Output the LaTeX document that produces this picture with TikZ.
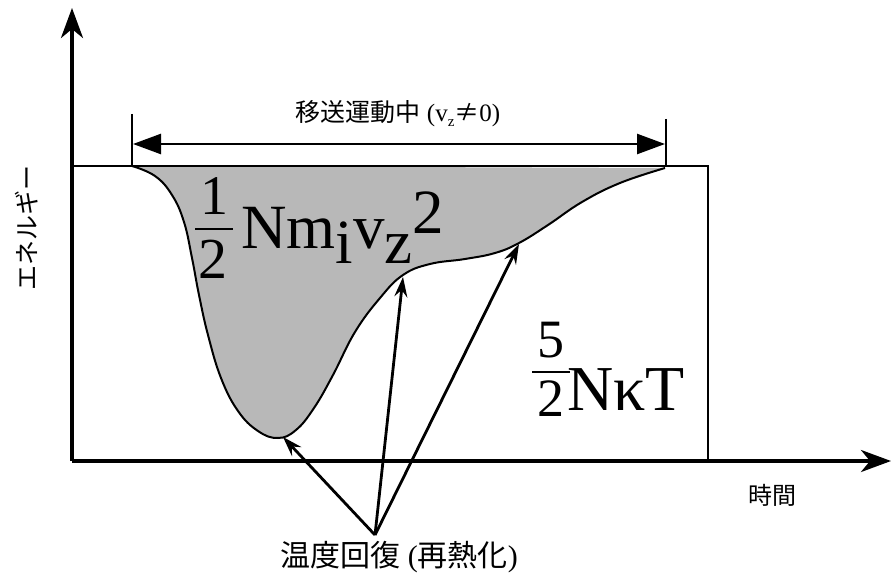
\documentclass[tikz,border=0pt]{standalone}
\usepackage{fontspec}
\setmainfont{Liberation Serif}
\newfontfamily\cjk{Noto Sans CJK JP}
\usetikzlibrary{arrows.meta}
\begin{document}
\begin{tikzpicture}[x=1pt,y=-1pt,
  axis/.style={line width=3.5pt, -{Stealth[length=30pt,width=22pt,inset=9pt]}},
  frame/.style={line width=2.5pt},
  tick/.style={line width=2.2pt},
  span/.style={line width=2.5pt, {Triangle[length=28pt,width=20pt]}-{Triangle[length=28pt,width=20pt]}},
  pointer/.style={line width=2.8pt, -{Stealth[length=20pt,width=13pt,inset=7pt,open]}},
  lbl/.style={inner sep=0pt},
  curvefill/.style={fill=black!28},
  curveline/.style={line width=2pt}]
\useasboundingbox (0,0) rectangle (891,580);

% axes and frame
\coordinate (O) at (72,461);
\coordinate (ytop) at (72,8);
\coordinate (xend) at (891,461);
\coordinate (bl) at (72,166);
\coordinate (br) at (708,166);
\coordinate (bb) at (708,461);

% shaded region
\fill[curvefill] plot[smooth, tension=0.7] coordinates {(132,166) (155,176) (172,195) (184,222) (192,258) (199,295) (208,335) (221,378) (238,411) (258,431) (278,438) (296,430) (314,408) (333,375) (355,332) (380,298) (403,275) (430,264) (465,259) (495,253) (519,243) (548,225) (582,202) (620,183) (665,168)} -- cycle;
\draw[curveline] plot[smooth, tension=0.7] coordinates {(132,166) (155,176) (172,195) (184,222) (192,258) (199,295) (208,335) (221,378) (238,411) (258,431) (278,438) (296,430) (314,408) (333,375) (355,332) (380,298) (403,275) (430,264) (465,259) (495,253) (519,243) (548,225) (582,202) (620,183) (665,168)};

\draw[frame] (bl) -- (br) -- (bb);
\draw[axis] (O) -- (ytop);
\draw[axis] (O) -- (xend);

% span marker
\coordinate (t1a) at (132,114);
\coordinate (t1b) at (132,166);
\coordinate (t2a) at (666,119);
\coordinate (t2b) at (666,166);
\draw[tick] (t1a) -- (t1b);
\draw[tick] (t2a) -- (t2b);
\coordinate (s1) at (133,144);
\coordinate (s2) at (665,144);
\draw[span] (s1) -- (s2);
\node[lbl] (spanlbl) at (398,114) {\fontsize{25}{25}\selectfont{\cjk 移送運動中} (v\raisebox{-0.2em}{\fontsize{15}{15}\selectfont z}{\cjk ≠}0)};

% formulas
\node[lbl] (f1n) at (214,196) {\fontsize{56}{56}\selectfont 1};
\coordinate (f1a) at (195,229);
\coordinate (f1b) at (233,229);
\draw[line width=2.5pt] (f1a) -- (f1b);
\node[lbl] (f1d) at (213,259) {\fontsize{58}{58}\selectfont 2};
\node[lbl, anchor=base west] (f1) at (241,248) {\fontsize{63}{63}\selectfont Nm\raisebox{-15pt}{i}v\raisebox{-15pt}{z}\raisebox{15pt}{2}};

\node[lbl] (f2n) at (551,340) {\fontsize{54}{54}\selectfont 5};
\coordinate (f2a) at (532,372);
\coordinate (f2b) at (570,372);
\draw[line width=2.5pt] (f2a) -- (f2b);
\node[lbl] (f2d) at (551,399) {\fontsize{54}{54}\selectfont 2};
\node[lbl, anchor=base west] (f2) at (567,410) {\fontsize{64}{64}\selectfont Nκ{}T};

% pointers
\coordinate (apex) at (375,535);
\coordinate (p1) at (283,437);
\coordinate (p2) at (403,277);
\coordinate (p3) at (519,244);
\draw[pointer] (apex) -- (p1);
\draw[pointer] (apex) -- (p2);
\draw[pointer] (apex) -- (p3);

% labels
\node[lbl] (reheat) at (399,557) {\fontsize{30}{30}\selectfont{\cjk 温度回復} ({\cjk 再熱化})};
\node[lbl] (time) at (772,495) {\fontsize{24}{24}\selectfont\cjk 時間};
\node[lbl, rotate=90] (energy) at (27,228) {\fontsize{25}{25}\selectfont\cjk エネルギー};
\end{tikzpicture}
\end{document}
